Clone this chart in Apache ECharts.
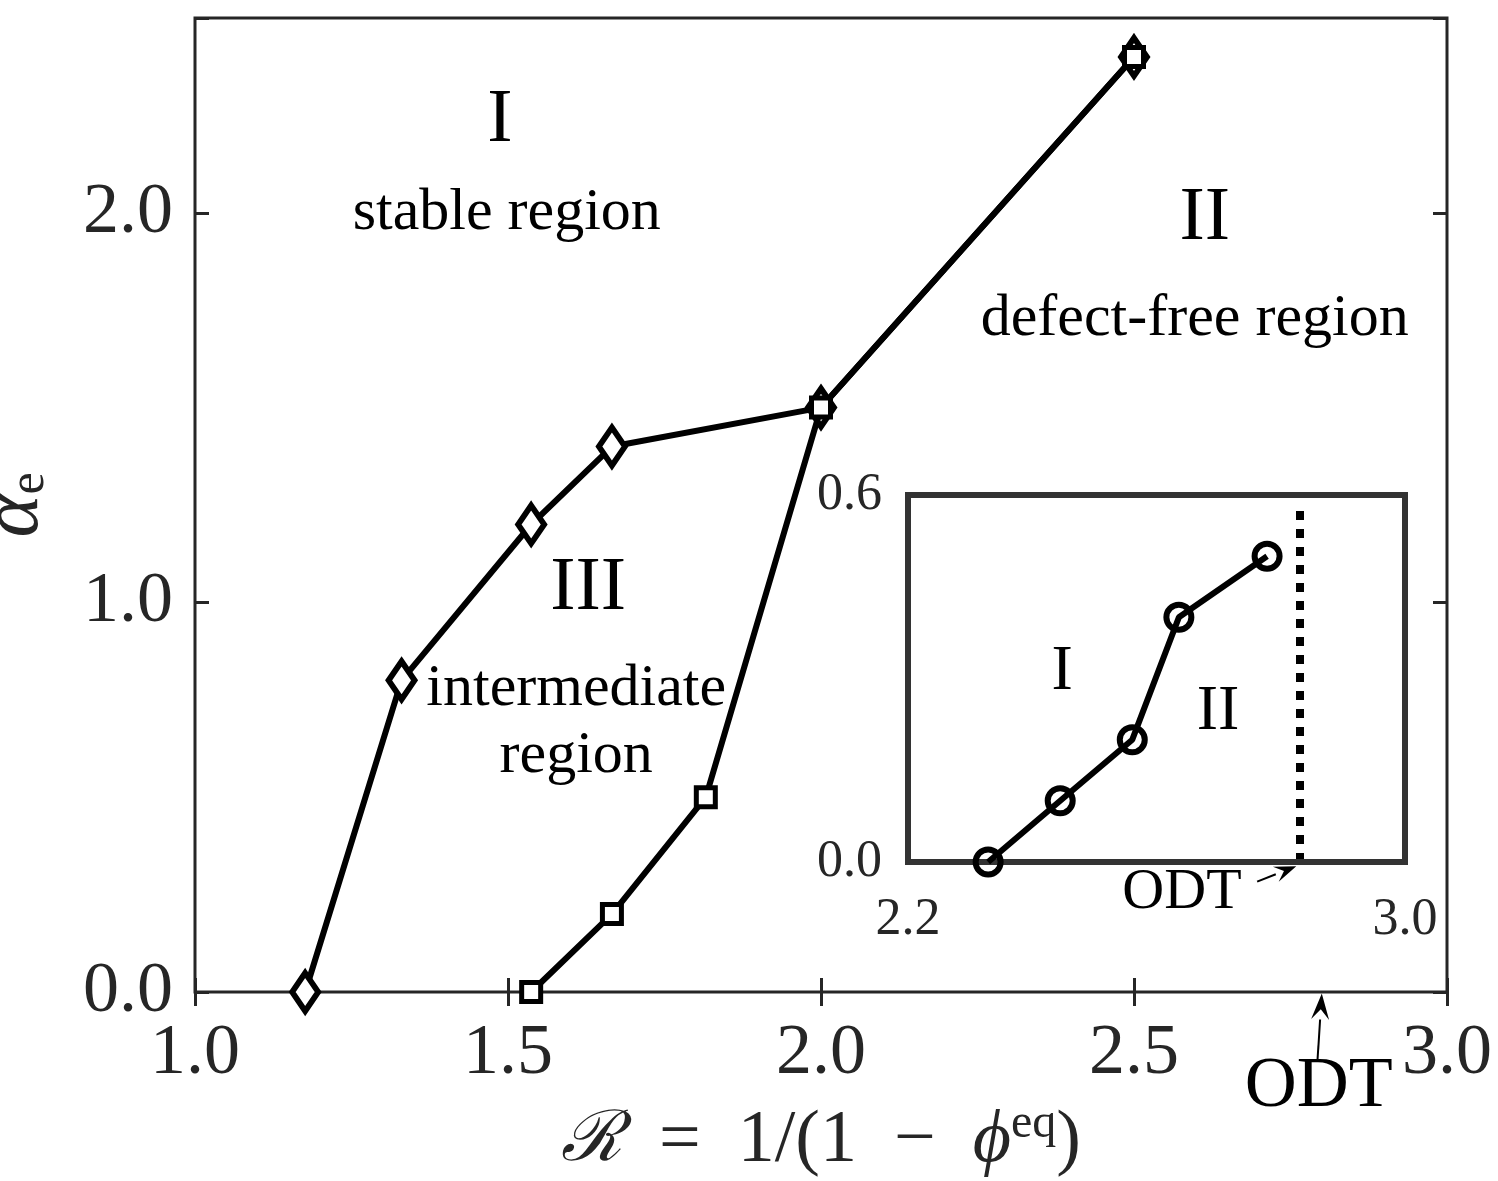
<!DOCTYPE html>
<html>
<head>
<meta charset="utf-8">
<script src="https://cdn.jsdelivr.net/npm/echarts@6/dist/echarts.min.js"></script>
<style>
  html, body { margin: 0; padding: 0; background: #fff; }
  #main { width: 1498px; height: 1181px; }
</style>
</head>
<body>
<div id="main"></div>
<script>
// 相图数据：稳定区 / 中间区 / 无缺陷区 的边界
const diamondR = [1.176, 1.33, 1.537, 1.666, 2.0, 2.5];
const diamondA = [0.0, 0.80, 1.20, 1.40, 1.50, 2.40];
const squareR = [1.537, 1.666, 1.816, 2.0, 2.5];
const squareA = [0.0, 0.20, 0.50, 1.50, 2.40];

// 插图数据
const insetR = [2.329, 2.445, 2.561, 2.636, 2.778];
const insetA = [0.0, 0.10, 0.20, 0.40, 0.50];
const odtInset = 2.83;
const odtMain = 2.80;

const mainTicksX = [1.0, 1.5, 2.0, 2.5, 3.0];
const mainTicksY = [0.0, 1.0, 2.0];

const SERIF = '"Liberation Serif", "Times New Roman", "DejaVu Serif", serif';
const AX = '#262626';

function pairs(xs, ys) {
    return xs.map((x, i) => [x, ys[i]]);
}
function isTick(list, v) {
    return list.some(t => Math.abs(t - v) < 1e-6);
}

const chart = echarts.init(document.getElementById('main'));

const tickStyle = {show: true, inside: true, length: 14, lineStyle: {color: AX, width: 3}};
const mirrorAxis = {
    axisLine: {show: false},
    axisTick: tickStyle,
    axisLabel: {show: false},
    splitLine: {show: false}
};

chart.setOption({
    animation: false,
    backgroundColor: '#fff',
    grid: [
        {left: 195, right: 51, top: 18, bottom: 189, outerBoundsMode: 'none', containLabel: false,
         show: true, borderColor: AX, borderWidth: 3},
        {left: 908, top: 495, width: 497, height: 367, outerBoundsMode: 'none', containLabel: false,
         show: true, borderColor: '#333', borderWidth: 6, z: 10}
    ],
    xAxis: [
        {
            gridIndex: 0, type: 'value', min: 1, max: 3, interval: 0.5, position: 'bottom',
            axisLine: {show: false},
            axisTick: tickStyle,
            axisLabel: {
                fontFamily: SERIF, fontSize: 72, color: AX, margin: 26,
                formatter: v => isTick(mainTicksX, v) ? v.toFixed(1) : ''
            },
            splitLine: {show: false},
            name: '{s|\u211B}{m|  =  1/(1  \u2212  }{i|\u03D5}{sup|eq}{m|)}',
            nameLocation: 'middle', nameGap: 108,
            nameTextStyle: {
                fontFamily: SERIF, fontSize: 74, color: AX,
                rich: {
                    s: {fontFamily: '"DejaVu Serif", serif', fontStyle: 'italic', fontSize: 70, color: AX, lineHeight: 84},
                    m: {fontFamily: SERIF, fontSize: 74, color: AX, lineHeight: 84},
                    i: {fontFamily: SERIF, fontStyle: 'italic', fontSize: 74, color: AX, lineHeight: 84},
                    sup: {fontFamily: SERIF, fontSize: 48, color: AX, verticalAlign: 'top', lineHeight: 48}
                }
            }
        },
        Object.assign({gridIndex: 0, type: 'value', min: 1, max: 3, interval: 0.5, position: 'top'}, mirrorAxis),
        {
            gridIndex: 1, type: 'value', min: 2.2, max: 3.0, interval: 0.8,
            axisLine: {show: false}, axisTick: {show: false}, splitLine: {show: false},
            axisLabel: {fontFamily: SERIF, fontSize: 52, color: AX, margin: 32, formatter: v => v.toFixed(1)}
        }
    ],
    yAxis: [
        {
            gridIndex: 0, type: 'value', min: 0, max: 2.5, interval: 1, position: 'left',
            axisLine: {show: false},
            axisTick: tickStyle,
            axisLabel: {
                fontFamily: SERIF, fontSize: 72, color: AX, margin: 22,
                formatter: v => isTick(mainTicksY, v) ? v.toFixed(1) : ''
            },
            splitLine: {show: false},
            name: '{a|\u03B1}{e|e}',
            nameLocation: 'middle', nameRotate: 90, nameGap: 140,
            nameTextStyle: {
                rich: {
                    a: {fontFamily: SERIF, fontStyle: 'italic', fontSize: 82, color: AX, lineHeight: 80},
                    e: {fontFamily: SERIF, fontSize: 50, color: AX, verticalAlign: 'bottom', lineHeight: 38}
                }
            }
        },
        Object.assign({gridIndex: 0, type: 'value', min: 0, max: 2.5, interval: 1, position: 'right'}, mirrorAxis),
        {
            gridIndex: 1, type: 'value', min: 0, max: 0.6, interval: 0.6,
            axisLine: {show: false}, axisTick: {show: false}, splitLine: {show: false},
            axisLabel: {fontFamily: SERIF, fontSize: 52, color: AX, margin: 26, formatter: v => v.toFixed(1)}
        }
    ],
    series: [
        {
            type: 'line', xAxisIndex: 0, yAxisIndex: 0,
            data: pairs(diamondR, diamondA),
            lineStyle: {color: '#000', width: 6},
            symbol: 'diamond', symbolSize: [26, 38],
            itemStyle: {color: '#fff', borderColor: '#000', borderWidth: 6},
            clip: false,
            z: 3
        },
        {
            type: 'line', xAxisIndex: 0, yAxisIndex: 0,
            data: pairs(squareR, squareA),
            lineStyle: {color: '#000', width: 6},
            symbol: 'rect', symbolSize: 19,
            itemStyle: {color: '#fff', borderColor: '#000', borderWidth: 5},
            clip: false,
            z: 4
        },
        {
            type: 'line', xAxisIndex: 2, yAxisIndex: 2,
            data: pairs(insetR, insetA),
            lineStyle: {color: '#000', width: 6},
            symbol: 'circle', symbolSize: 25,
            itemStyle: {color: 'rgba(255,255,255,0)', borderColor: '#000', borderWidth: 6},
            clip: false,
            z: 12,
            markLine: {
                silent: true, symbol: ['none', 'none'],
                lineStyle: {color: '#000', width: 8, type: [9, 9]},
                label: {show: false},
                data: [[{coord: [odtInset, 0]}, {coord: [odtInset, 0.575]}]]
            }
        }
    ]
});

// 注释文字：用数据坐标换算出像素位置
function px(grid, x, y) {
    return chart.convertToPixel({gridIndex: grid}, [x, y]);
}
function label(grid, x, y, text, size) {
    const p = px(grid, x, y);
    return {
        type: 'text', x: p[0], y: p[1], z: 20,
        style: {text: text, fontFamily: SERIF, fontSize: size, fill: '#000', align: 'center', verticalAlign: 'middle'}
    };
}
function arrow(grid, from, to, L, W) {
    const a = px(grid, from[0], from[1]);
    const b = px(grid, to[0], to[1]);
    const ang = Math.atan2(b[1] - a[1], b[0] - a[0]);
    const bx = b[0] - L * Math.cos(ang), by = b[1] - L * Math.sin(ang);
    const nx = -Math.sin(ang) * W, ny = Math.cos(ang) * W;
    const back = 0.6;
    return [
        {type: 'line', z: 20, shape: {x1: a[0], y1: a[1], x2: bx, y2: by}, style: {stroke: '#000', lineWidth: 2}},
        {type: 'polygon', z: 20, shape: {points: [
            b, [bx + nx, by + ny],
            [b[0] - L * back * Math.cos(ang), b[1] - L * back * Math.sin(ang)],
            [bx - nx, by - ny]
        ]}, style: {fill: '#000'}}
    ];
}

const graphics = [
    label(0, 1.487, 2.236, 'I', 76),
    label(0, 1.498, 2.0, 'stable region', 60),
    label(0, 2.613, 1.985, 'II', 76),
    label(0, 2.597, 1.727, 'defect-free region', 60),
    label(0, 1.628, 1.033, 'III', 76),
    label(0, 1.609, 0.776, 'intermediate', 60),
    label(0, 1.609, 0.604, 'region', 60),
    label(0, odtMain - 0.005, -0.245, 'ODT', 72),
    label(1, 2.448, 0.311, 'I', 64),
    label(1, 2.699, 0.245, 'II', 64),
    label(1, 2.641, -0.05, 'ODT', 58)
].concat(
    arrow(0, [odtMain - 0.007, -0.178], [odtMain, -0.004], 26, 9),
    arrow(1, [2.762, -0.032], [2.825, -0.007], 22, 8)
);

chart.setOption({graphic: graphics});
</script>
</body>
</html>
